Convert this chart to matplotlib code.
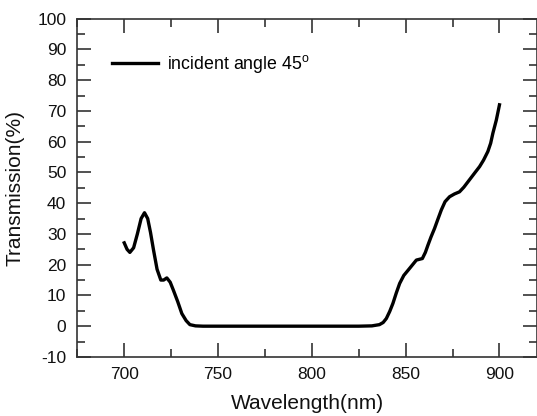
import matplotlib
matplotlib.use("Agg")
import matplotlib.pyplot as plt
from matplotlib.ticker import MultipleLocator

plt.rcParams['font.family'] = ['Liberation Sans', 'DejaVu Sans']
plt.rcParams['mathtext.fontset'] = 'custom'
plt.rcParams['mathtext.rm'] = 'Liberation Sans'
plt.rcParams['axes.unicode_minus'] = False

# values
wavelength = [700, 701.5, 703, 705, 707, 709, 710.8, 712.5, 714, 715.6, 717.5, 719.5,
              721, 722.7, 724.5, 726.2, 728.5, 730.7, 733, 735, 738, 742,
              760, 800, 825, 832, 836, 838, 839.7, 841.5, 843.2, 845, 846.8,
              849, 852.1, 855.7, 858.9, 860.5, 861.9, 863.5, 865.4, 867, 869,
              871, 873.4, 876, 878.7, 881, 884, 887, 889.4, 891.5, 893.8,
              895.3, 896.5, 898.3, 900]
transmission = [27.1, 25.0, 24.0, 25.5, 30.0, 35.0, 36.9, 35.0, 30.5, 24.8, 18.5, 15.0,
                15.0, 15.7, 14.3, 11.7, 8.0, 4.1, 1.8, 0.5, 0.1, 0.0,
                0.0, 0.0, 0.0, 0.1, 0.5, 1.2, 2.5, 4.8, 7.4, 10.8, 13.9,
                16.5, 18.8, 21.5, 22.0, 24.0, 26.4, 29.0, 31.8, 34.5, 37.8,
                40.5, 42.1, 43.0, 43.7, 45.2, 47.6, 50.0, 51.9, 54.0, 56.8,
                59.5, 62.8, 67.0, 72.0]

fig, ax = plt.subplots(figsize=(5.37, 4.16), dpi=100)
fig.subplots_adjust(left=0.144, right=1.0, top=0.955, bottom=0.142)

ax.plot(wavelength, transmission, color='black', linewidth=2.4,
        label='incident angle 45$^\\mathrm{o}$')

ax.set_xlim(675, 920)
ax.set_ylim(-10, 100)
ax.xaxis.set_major_locator(MultipleLocator(50))
ax.xaxis.set_minor_locator(MultipleLocator(25))
ax.yaxis.set_major_locator(MultipleLocator(10))
ax.yaxis.set_minor_locator(MultipleLocator(5))
ax.tick_params(which='both', direction='in', top=True, right=True, labelsize=12.5,
               color='#333333', labelcolor='#111111')
ax.tick_params(which='major', length=10, width=1.2)
ax.tick_params(which='minor', length=6, width=1.2)
ax.tick_params(axis='x', which='major', pad=7)
ax.tick_params(axis='y', which='major', pad=8)

ax.set_xlabel('Wavelength(nm)', fontsize=15, color='#111111')
ax.set_ylabel('Transmission(%)', fontsize=15, color='#111111')
ax.yaxis.set_label_coords(-0.115, 0.5)
ax.xaxis.set_label_coords(0.5, -0.11)

ax.legend(loc='upper left', frameon=False, fontsize=12.8, handlelength=2.6,
          handletextpad=0.5, bbox_to_anchor=(0.06, 0.92), borderaxespad=0)

for pos in ['right', 'top', 'bottom', 'left']:
    ax.spines[pos].set_linewidth(1.2)
    ax.spines[pos].set_color('#333333')

fig.savefig('out.png', dpi=100)
